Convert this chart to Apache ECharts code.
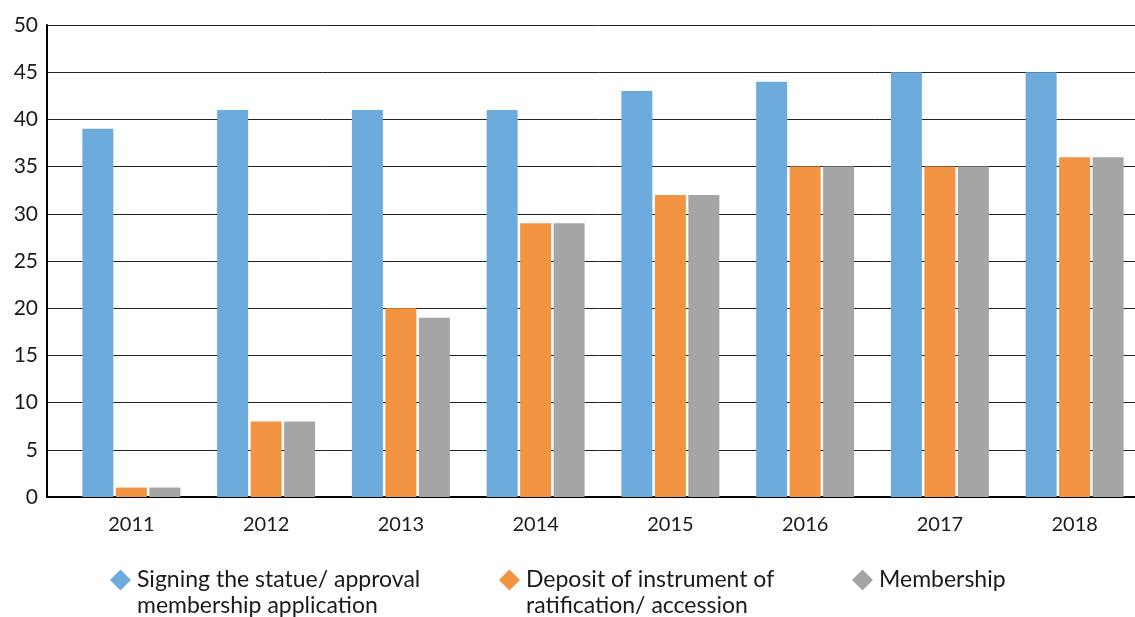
<!DOCTYPE html>
<html>
<head>
<meta charset="utf-8">
<script src="https://cdn.jsdelivr.net/npm/echarts@6/dist/echarts.min.js"></script>
<style>html,body{margin:0;padding:0;background:#fff;overflow:hidden;}#c{width:1150px;height:617px;}</style>
</head>
<body>
<div id="c"></div>
<script>
var categories = ['2011','2012','2013','2014','2015','2016','2017','2018'];
var seriesNames = ['Signing the statue/ approval\nmembership application', 'Deposit of instrument of\nratification/ accession', 'Membership'];
var signing = [39, 41, 41, 41, 43, 44, 45, 45];
var deposit = [1, 8, 20, 29, 32, 35, 35, 36];
var membership = [1, 8, 19, 29, 32, 35, 35, 36];
var yTicks = [0, 5, 10, 15, 20, 25, 30, 35, 40, 45, 50];
var colors = ['#6DABDD', '#F29441', '#A5A5A5'];

var font = 'Lato';
var chart = echarts.init(document.getElementById('c'));
// diamond drawn in the top part of a taller box so it lines up with the first text line
var tallDiamond = 'path://M10.5,0 L21,10.5 L10.5,21 L0,10.5 Z M10.5,47 L10.5,47.01';
function legend(i, left, twoLine) {
  return {
    data: [seriesNames[i]], left: left, top: 562, orient: 'horizontal',
    icon: twoLine ? tallDiamond : 'diamond', itemWidth: 21, itemHeight: twoLine ? 47 : 21,
    selectedMode: false,
    textStyle: { fontFamily: font, fontSize: 23, color: '#1a1a1a', lineHeight: 26,
      padding: [0, 0, 0, 1] }
  };
}
chart.setOption({
  animation: false,
  color: colors,
  grid: [
    { left: 47, right: 0, top: 25, bottom: 120 },
    { left: 64, width: 1078, top: 25, bottom: 120 }
  ],
  legend: [legend(0, 105, true), legend(1, 494, true), legend(2, 847, false)],
  xAxis: [
    { gridIndex: 0, type: 'category', data: [''], axisTick: { show: false }, axisLabel: { show: false },
      axisLine: { show: true, lineStyle: { color: '#000', width: 2 } } },
    { gridIndex: 1, type: 'category', data: categories, axisTick: { show: false },
      axisLine: { show: false },
      axisLabel: { fontFamily: font, fontSize: 20, color: '#1a1a1a', margin: 18 } }
  ],
  yAxis: [
    { gridIndex: 0, type: 'value', min: 0, max: 50, interval: 5,
      axisLine: { show: true, lineStyle: { color: '#000', width: 2 } },
      axisTick: { show: false },
      axisLabel: { fontFamily: font, fontSize: 21, color: '#1a1a1a', margin: 9,
        formatter: function (v) { return yTicks.indexOf(v) >= 0 ? String(v) : ''; } },
      splitLine: { show: true, lineStyle: { color: '#222', width: 1 } } },
    { gridIndex: 1, type: 'value', min: 0, max: 50, show: false }
  ],
  series: [
    { name: seriesNames[0], type: 'bar', xAxisIndex: 1, yAxisIndex: 1, data: signing, barWidth: 31, barGap: '8%', itemStyle: { color: colors[0] } },
    { name: seriesNames[1], type: 'bar', xAxisIndex: 1, yAxisIndex: 1, data: deposit, barWidth: 31, barGap: '8%', itemStyle: { color: colors[1] } },
    { name: seriesNames[2], type: 'bar', xAxisIndex: 1, yAxisIndex: 1, data: membership, barWidth: 31, barGap: '8%', itemStyle: { color: colors[2] } }
  ]
});
</script>
</body>
</html>
